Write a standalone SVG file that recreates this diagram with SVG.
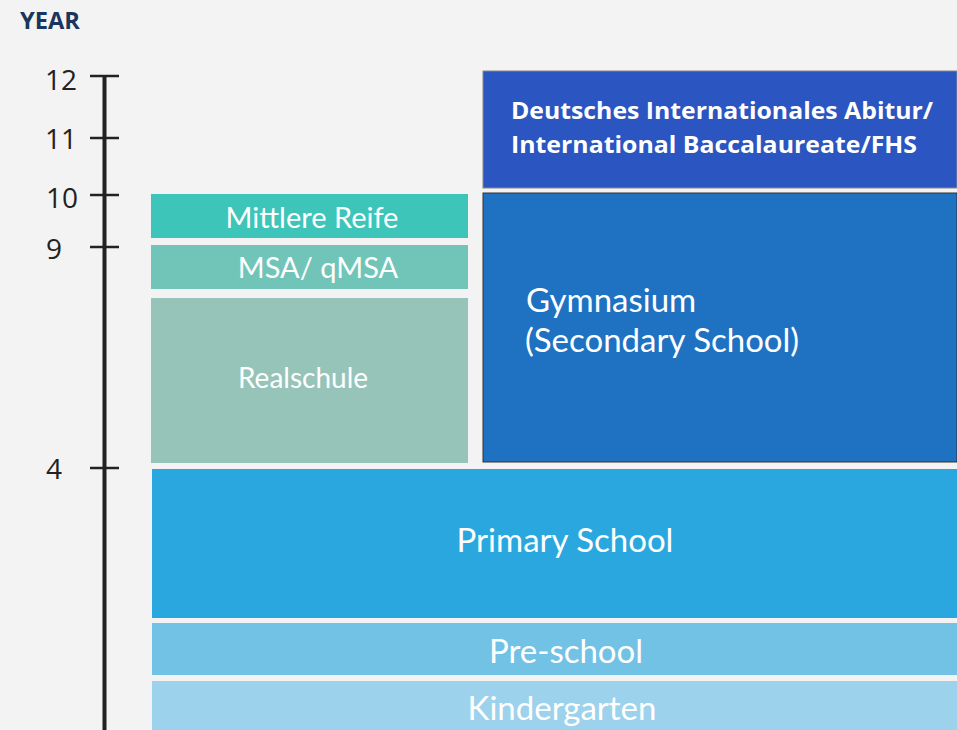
<svg xmlns="http://www.w3.org/2000/svg" width="957" height="730" viewBox="0 0 957 730">
<style>
.lbl{font-family:Lato,"Noto Sans",sans-serif;fill:#fff;text-anchor:middle}
.ax{font-family:"Open Sans","Liberation Sans",sans-serif;font-size:28px;fill:#222;text-anchor:end}
.tick{stroke:#222;stroke-width:2.5}
.big{font-family:Lato,"Noto Sans",sans-serif;font-size:33px;fill:#fff}
.abi{font-family:"Open Sans","Noto Sans",sans-serif;font-weight:bold;font-size:23px;fill:#fff}
</style>
<rect width="957" height="730" fill="#f3f3f3"/>
<text x="20" y="29" font-family="'Open Sans','Liberation Sans',sans-serif" font-weight="bold" font-size="23" fill="#1b365d" textLength="60" lengthAdjust="spacingAndGlyphs">YEAR</text>
<g id="axis">
<line x1="104.5" y1="76" x2="104.5" y2="730" stroke="#222" stroke-width="4"/>
<line class="tick" x1="90" y1="76" x2="119" y2="76"/>
<line class="tick" x1="90" y1="138" x2="119" y2="138"/>
<line class="tick" x1="90" y1="195" x2="119" y2="195"/>
<line class="tick" x1="90" y1="247" x2="119" y2="247"/>
<line class="tick" x1="90" y1="468" x2="119" y2="468"/>
<text class="ax" x="77" y="90">12</text>
<text class="ax" x="77" y="149">11</text>
<text class="ax" x="78" y="208">10</text>
<text class="ax" x="62" y="259">9</text>
<text class="ax" x="62" y="479">4</text>
</g>
<g id="abitur">
<rect x="483" y="71" width="474" height="117" fill="#2b55c0" stroke="#888" stroke-width="1"/>
<text class="abi" x="511" y="119" textLength="422" lengthAdjust="spacingAndGlyphs">Deutsches Internationales Abitur/</text>
<text class="abi" x="511" y="153" textLength="406" lengthAdjust="spacingAndGlyphs">International Baccalaureate/FHS</text>
</g>
<g id="gymnasium">
<rect x="483" y="193" width="474" height="269" fill="#1e72c1" stroke="#333" stroke-width="1"/>
<text class="big" x="526" y="312">Gymnasium</text>
<text class="big" x="525" y="352">(Secondary School)</text>
</g>
<g id="mittlere-reife">
<rect x="151" y="194" width="317" height="44" fill="#3ec5b9"/>
<text class="lbl" x="312" y="228" font-size="29">Mittlere Reife</text>
</g>
<g id="msa">
<rect x="151" y="245" width="317" height="44" fill="#70c5b8"/>
<text class="lbl" x="318" y="278" font-size="29">MSA/ qMSA</text>
</g>
<g id="realschule">
<rect x="151" y="298" width="317" height="165" fill="#97c4b9"/>
<text class="lbl" x="303" y="388" font-size="28">Realschule</text>
</g>
<g id="primary">
<rect x="152" y="469" width="805" height="149" fill="#2ba7e0"/>
<text class="lbl" x="565" y="552" font-size="33">Primary School</text>
</g>
<g id="preschool">
<rect x="152" y="623" width="805" height="52" fill="#72c2e6"/>
<text class="lbl" x="566" y="663" font-size="33">Pre-school</text>
</g>
<g id="kindergarten">
<rect x="152" y="681" width="805" height="49" fill="#9cd2eb"/>
<text class="lbl" x="562" y="720" font-size="33">Kindergarten</text>
</g>
</svg>
